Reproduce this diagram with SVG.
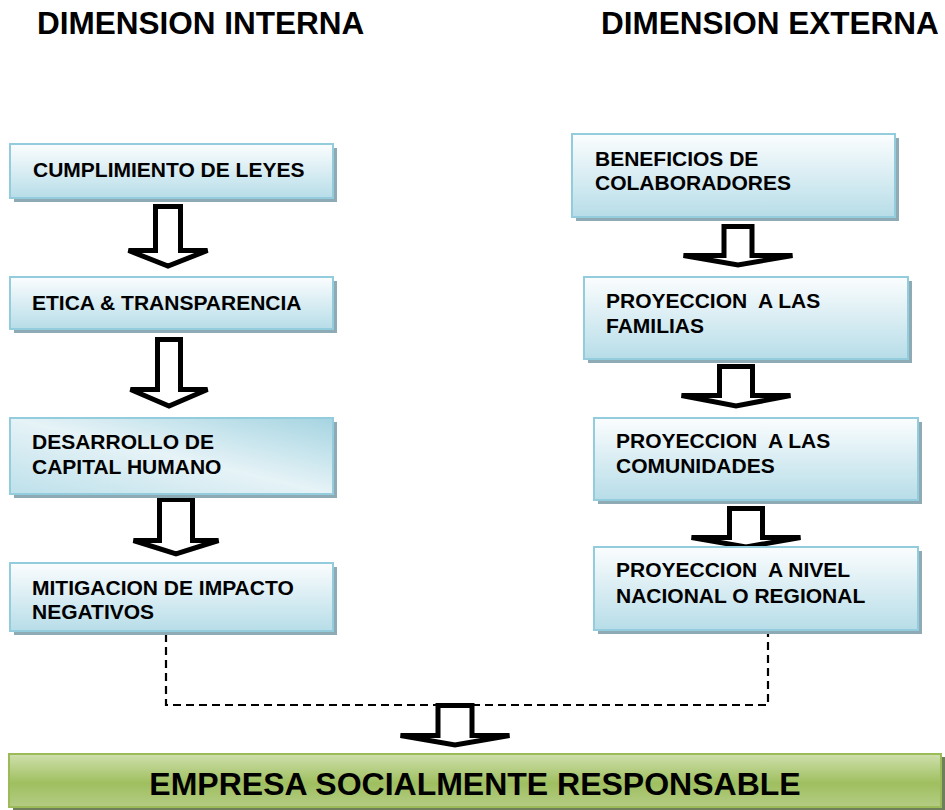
<svg xmlns="http://www.w3.org/2000/svg" width="945" height="810" viewBox="0 0 945 810">
<style>
  .hdr{font-family:"Liberation Sans",Arial,sans-serif;font-weight:bold;font-size:31.5px;fill:#000}
  .lbl{font-family:"Liberation Sans",Arial,sans-serif;font-weight:bold;font-size:21px;fill:#000;white-space:pre}
  .big{font-family:"Liberation Sans",Arial,sans-serif;font-weight:bold;font-size:32px;fill:#000;text-anchor:middle}
  .box{fill:url(#blue);stroke:#93cddd;stroke-width:2}
  .shadow{fill:#8eaab4}
  .arrow{fill:#fff;stroke:#000;stroke-width:5;stroke-linejoin:miter}
  .dash{fill:none;stroke:#000;stroke-width:2.2;stroke-dasharray:8 5}
</style>
<defs>
  <linearGradient id="blue" x1="0" y1="0" x2="0" y2="1">
    <stop offset="0" stop-color="#fbfdfe"/>
    <stop offset="1" stop-color="#b7dde8"/>
  </linearGradient>
  <linearGradient id="blue2" x1="1" y1="0" x2="0" y2="1">
    <stop offset="0" stop-color="#a5d4e1"/>
    <stop offset="0.5" stop-color="#e6f3f7"/>
    <stop offset="1" stop-color="#bde0ea"/>
  </linearGradient>
  <linearGradient id="green" x1="0" y1="0" x2="0" y2="1">
    <stop offset="0" stop-color="#cfe0ad"/>
    <stop offset="0.55" stop-color="#9fbf5f"/>
    <stop offset="1" stop-color="#b4cc84"/>
  </linearGradient>
</defs>
<rect width="945" height="810" fill="#fff"/>

<text class="hdr" x="37" y="34">DIMENSION INTERNA</text>
<text class="hdr" x="601" y="34">DIMENSION EXTERNA</text>

<g id="connectors">
  <path class="dash" d="M166,634 V705 H768 V634"/>
  <polygon class="arrow" points="155.5,206.5 180.5,206.5 180.5,250.5 207.5,250.5 168,266 128.5,250.5 155.5,250.5"/>
  <polygon class="arrow" points="157.5,339.5 180.5,339.5 180.5,389.5 207.5,389.5 169,406 130.5,389.5 157.5,389.5"/>
  <polygon class="arrow" points="159.5,499.5 192.5,499.5 192.5,540.5 218.5,540.5 176,554 133.5,540.5 159.5,540.5"/>
  <polygon class="arrow" points="724,226.5 752,226.5 752,255.5 792.5,255.5 738,265 683.5,255.5 724,255.5"/>
  <polygon class="arrow" points="719.5,366.5 752.5,366.5 752.5,395.5 790.5,395.5 736,406 681.5,395.5 719.5,395.5"/>
  <polygon class="arrow" points="729.5,508.5 762.5,508.5 762.5,537.5 800.5,537.5 746,547 691.5,537.5 729.5,537.5"/>
  <polygon class="arrow" points="438,705.5 472,705.5 472,735.5 509.5,735.5 455,745 400.5,735.5 438,735.5"/>
</g>

<g id="n1">
  <rect class="shadow" x="14" y="148" width="323" height="54"/>
  <rect class="box" x="10" y="144" width="323" height="54"/>
  <text class="lbl" x="33" y="177">CUMPLIMIENTO DE LEYES</text>
</g>
<g id="n2">
  <rect class="shadow" x="14" y="281" width="323" height="52"/>
  <rect class="box" x="10" y="277" width="323" height="52"/>
  <text class="lbl" x="32" y="310">ETICA &amp; TRANSPARENCIA</text>
</g>
<g id="n3">
  <rect class="shadow" x="14" y="422" width="323" height="76"/>
  <rect class="box" x="10" y="418" width="323" height="76" style="fill:url(#blue2)"/>
  <text class="lbl" x="32" y="449">DESARROLLO DE</text>
  <text class="lbl" x="32" y="474">CAPITAL HUMANO</text>
</g>
<g id="n4">
  <rect class="shadow" x="14" y="567" width="323" height="68"/>
  <rect class="box" x="10" y="563" width="323" height="68"/>
  <text class="lbl" x="32" y="595">MITIGACION DE IMPACTO</text>
  <text class="lbl" x="32" y="619">NEGATIVOS</text>
</g>

<g id="r1">
  <rect class="shadow" x="576" y="138" width="323" height="83"/>
  <rect class="box" x="572" y="134" width="323" height="83"/>
  <text class="lbl" x="595" y="166">BENEFICIOS DE</text>
  <text class="lbl" x="595" y="190">COLABORADORES</text>
</g>
<g id="r2">
  <rect class="shadow" x="588" y="281" width="324" height="82"/>
  <rect class="box" x="584" y="277" width="324" height="82"/>
  <text class="lbl" x="606" y="308">PROYECCION  A LAS</text>
  <text class="lbl" x="606" y="333">FAMILIAS</text>
</g>
<g id="r3">
  <rect class="shadow" x="598" y="422" width="324" height="82"/>
  <rect class="box" x="594" y="418" width="324" height="82"/>
  <text class="lbl" x="616" y="448">PROYECCION  A LAS</text>
  <text class="lbl" x="616" y="473">COMUNIDADES</text>
</g>
<g id="r4">
  <rect class="shadow" x="598" y="551" width="324" height="83"/>
  <rect class="box" x="594" y="547" width="324" height="83"/>
  <text class="lbl" x="616" y="577">PROYECCION  A NIVEL</text>
  <text class="lbl" x="616" y="603">NACIONAL O REGIONAL</text>
</g>

<g id="result">
  <rect x="13" y="757" width="932" height="53" fill="#6f7f5a"/>
  <rect x="9" y="754" width="932" height="53" fill="url(#green)" stroke="#9bbb59" stroke-width="2"/>
  <text class="big" x="475" y="795">EMPRESA SOCIALMENTE RESPONSABLE</text>
</g>
</svg>
